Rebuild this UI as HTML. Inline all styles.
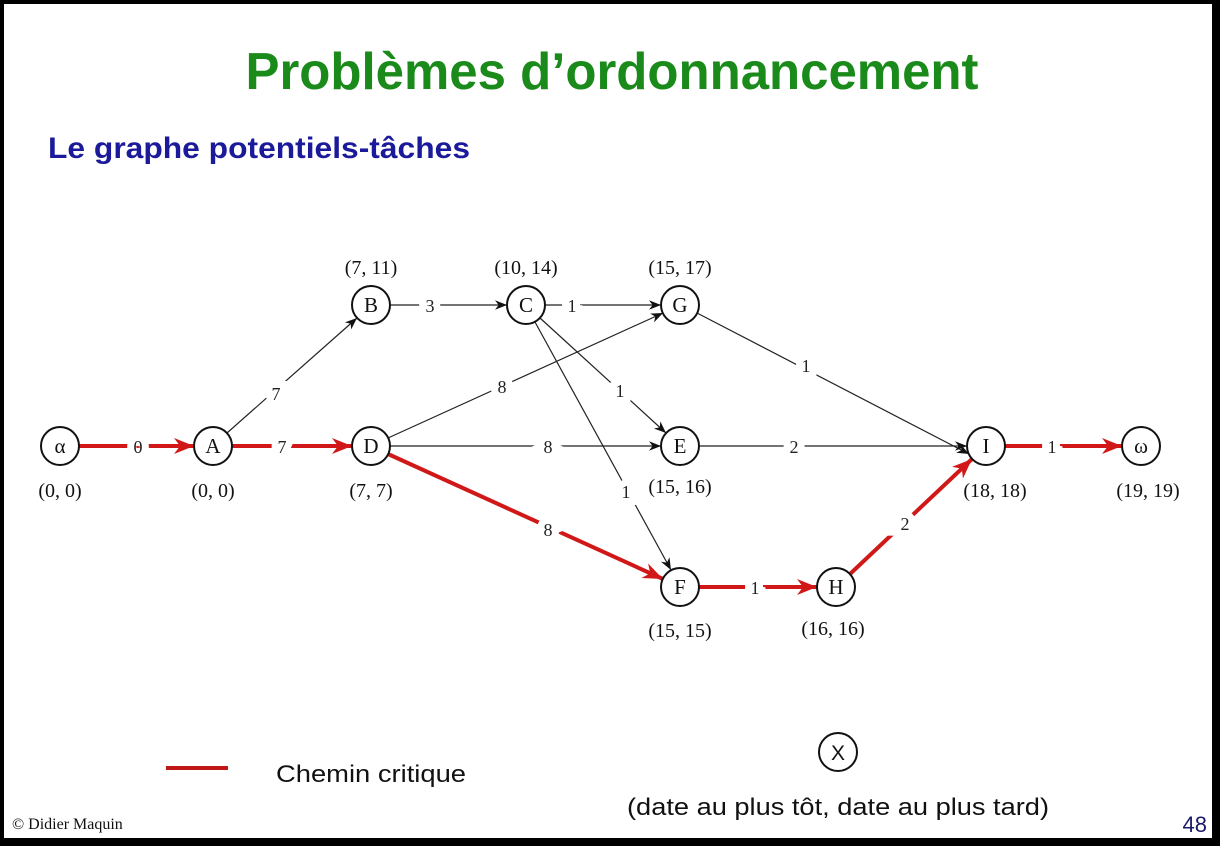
<!DOCTYPE html>
<html><head><meta charset="utf-8"><style>
html,body{margin:0;padding:0;background:#000}
svg{display:block}
</style></head><body>
<svg width="1220" height="846" viewBox="0 0 1220 846" xmlns="http://www.w3.org/2000/svg">
<defs>
<marker id="ab" viewBox="0 0 10 10" refX="10" refY="5" markerWidth="12" markerHeight="12" markerUnits="userSpaceOnUse" orient="auto"><path d="M0,1 L10,5 L0,9 L3,5 z" fill="#111"/></marker>
<marker id="ar" viewBox="0 0 10 10" refX="10" refY="5" markerWidth="20" markerHeight="20" markerUnits="userSpaceOnUse" orient="auto"><path d="M0,1 L10,5 L0,9 L3,5 z" fill="#d01818"/></marker>
</defs>
<rect x="4" y="4" width="1208" height="834" fill="#fff"/>
<text x="612" y="89" text-anchor="middle" font-family="Liberation Sans, sans-serif" font-weight="bold" font-size="52" fill="#1a8a1a" textLength="733" lengthAdjust="spacingAndGlyphs">Problèmes d’ordonnancement</text>
<text x="48" y="158" font-family="Liberation Sans, sans-serif" font-weight="bold" font-size="30" fill="#1a1a9a" textLength="422" lengthAdjust="spacingAndGlyphs">Le graphe potentiels-tâches</text>

<g stroke="#222" stroke-width="1.2" fill="none" marker-end="url(#ab)">
<line x1="227" y1="433" x2="357" y2="318"/>
<line x1="390" y1="305" x2="507" y2="305"/>
<line x1="545" y1="305" x2="661" y2="305"/>
<line x1="540" y1="318" x2="666" y2="433"/>
<line x1="535" y1="322" x2="671" y2="570"/>
<line x1="388" y1="438" x2="663" y2="313"/>
<line x1="390" y1="446" x2="661" y2="446"/>
<line x1="697" y1="313" x2="969" y2="454"/>
<line x1="699" y1="446" x2="967" y2="446"/>
</g>
<g stroke="#d01818" stroke-width="4" fill="none" marker-end="url(#ar)">
<line x1="79" y1="446" x2="194" y2="446"/>
<line x1="232" y1="446" x2="352" y2="446"/>
<line x1="388" y1="454" x2="663" y2="579"/>
<line x1="699" y1="587" x2="817" y2="587"/>
<line x1="850" y1="574" x2="972" y2="459"/>
<line x1="1005" y1="446" x2="1122" y2="446"/>
</g>

<g font-family="Liberation Serif, serif" font-size="18" fill="#222" text-anchor="middle" stroke="#fff" stroke-width="14" paint-order="stroke">
<text x="138" y="453">0</text>
<text x="282" y="453">7</text>
<text x="276" y="400">7</text>
<text x="430" y="312">3</text>
<text x="572" y="312">1</text>
<text x="502" y="393">8</text>
<text x="548" y="453">8</text>
<text x="620" y="397">1</text>
<text x="626" y="498">1</text>
<text x="548" y="536">8</text>
<text x="755" y="594">1</text>
<text x="905" y="530">2</text>
<text x="806" y="372">1</text>
<text x="794" y="453">2</text>
<text x="1052" y="453">1</text>
</g>

<g stroke="#111" stroke-width="2" fill="#fff">
<circle cx="60" cy="446" r="19"/><circle cx="213" cy="446" r="19"/>
<circle cx="371" cy="305" r="19"/><circle cx="526" cy="305" r="19"/>
<circle cx="680" cy="305" r="19"/><circle cx="371" cy="446" r="19"/>
<circle cx="680" cy="446" r="19"/><circle cx="680" cy="587" r="19"/>
<circle cx="836" cy="587" r="19"/><circle cx="986" cy="446" r="19"/>
<circle cx="1141" cy="446" r="19"/><circle cx="838" cy="752" r="19"/>
</g>
<g font-family="Liberation Serif, serif" font-size="21" fill="#111" text-anchor="middle">
<text x="60" y="453">α</text><text x="213" y="453">A</text>
<text x="371" y="312">B</text><text x="526" y="312">C</text>
<text x="680" y="312">G</text><text x="371" y="453">D</text>
<text x="680" y="453">E</text><text x="680" y="594">F</text>
<text x="836" y="594">H</text><text x="986" y="453">I</text>
<text x="1141" y="453">ω</text>
</g>
<text x="838" y="760" text-anchor="middle" font-family="Liberation Sans, sans-serif" font-size="21" fill="#111">X</text>

<g font-family="Liberation Serif, serif" font-size="20" fill="#111" text-anchor="middle">
<text x="371" y="274">(7, 11)</text>
<text x="526" y="274">(10, 14)</text>
<text x="680" y="274">(15, 17)</text>
<text x="60" y="497">(0, 0)</text>
<text x="213" y="497">(0, 0)</text>
<text x="371" y="497">(7, 7)</text>
<text x="680" y="493">(15, 16)</text>
<text x="995" y="497">(18, 18)</text>
<text x="1148" y="497">(19, 19)</text>
<text x="680" y="637">(15, 15)</text>
<text x="833" y="635">(16, 16)</text>
</g>

<line x1="166" y1="768" x2="228" y2="768" stroke="#c01818" stroke-width="4"/>
<text x="276" y="782" font-family="Liberation Sans, sans-serif" font-size="24" fill="#111" textLength="190" lengthAdjust="spacingAndGlyphs">Chemin critique</text>
<text x="838" y="815" text-anchor="middle" font-family="Liberation Sans, sans-serif" font-size="24" fill="#111" textLength="422" lengthAdjust="spacingAndGlyphs">(date au plus tôt, date au plus tard)</text>
<text x="12" y="829" font-family="Liberation Serif, serif" font-size="16" fill="#111">© Didier Maquin</text>
<text x="1207" y="832" text-anchor="end" font-family="Liberation Sans, sans-serif" font-size="22" fill="#1a1a6a">48</text>
</svg>
</body></html>
